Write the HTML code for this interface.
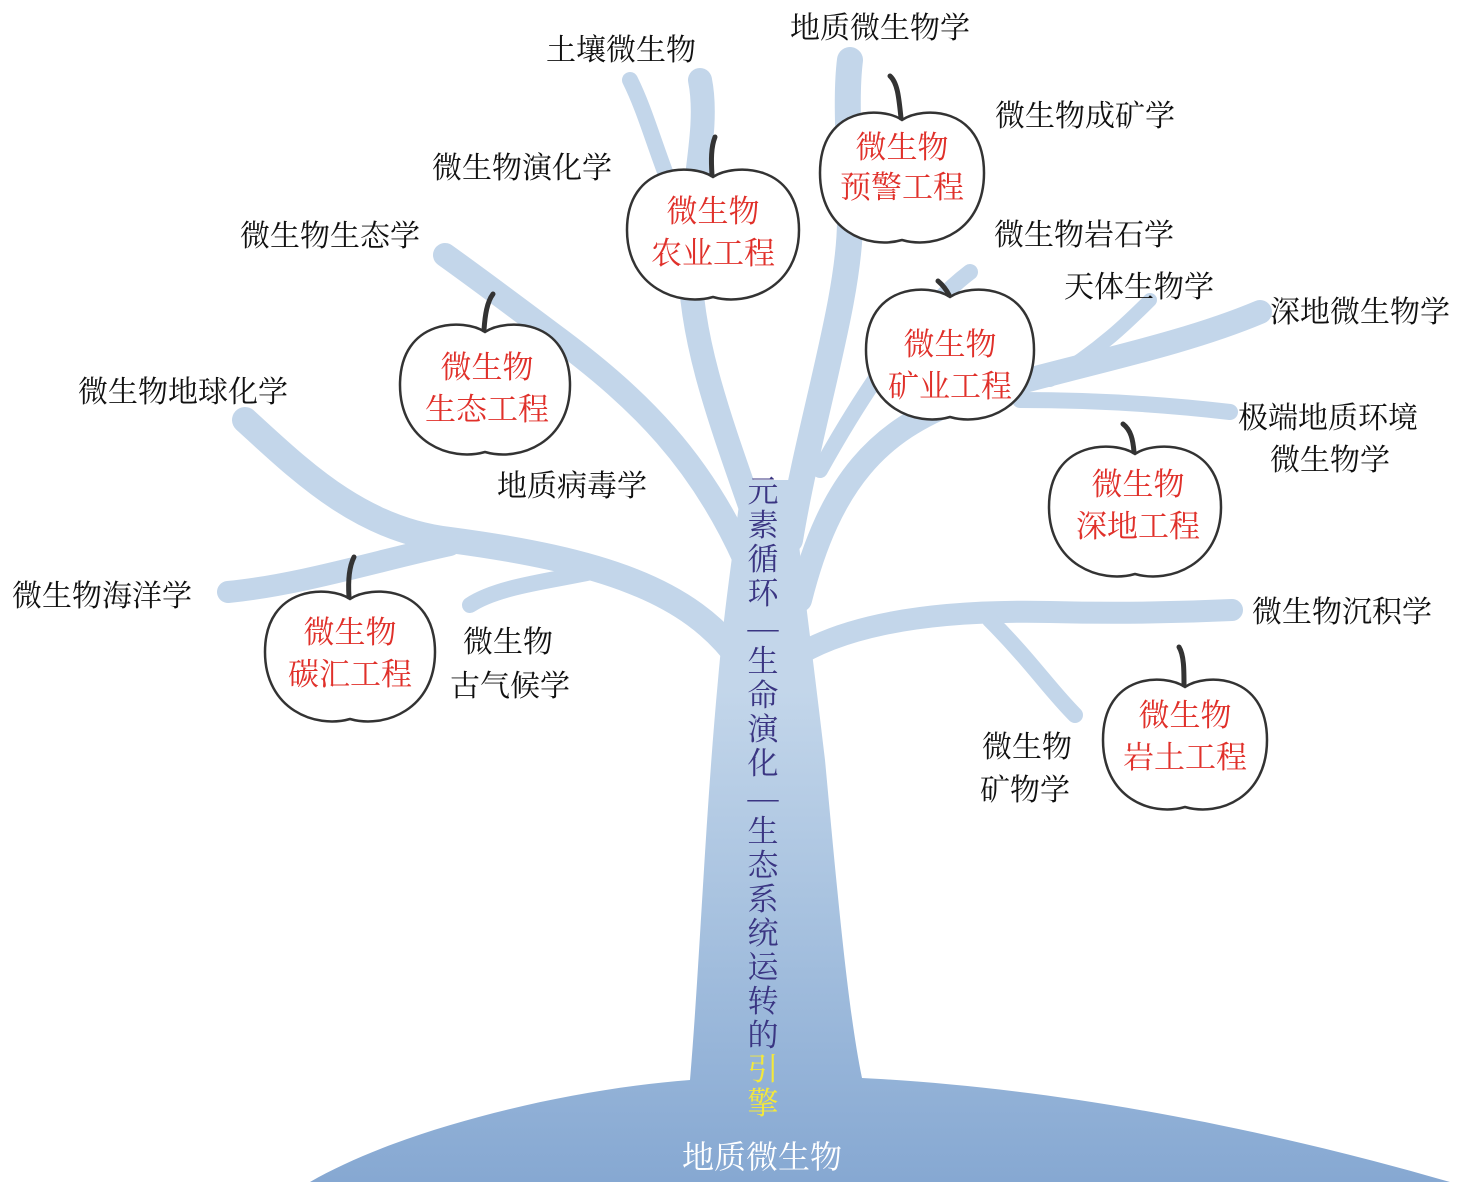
<!DOCTYPE html>
<html><head><meta charset="utf-8"><style>
html,body{margin:0;padding:0;background:#fff;}
svg{display:block;}
text{font-family:"Liberation Serif","Noto Serif CJK SC",serif;}
.k{font-size:30px;fill:#111;}
.r{font-size:31px;fill:#e0302a;text-anchor:middle;}
.br{fill:none;stroke:#c3d6ea;stroke-linecap:round;stroke-linejoin:round;}
.ap{fill:#fff;stroke:#333;stroke-width:2.5;}
.st{fill:none;stroke:#333;stroke-width:5;stroke-linecap:round;}
</style></head><body>
<svg width="1476" height="1197" viewBox="0 0 1476 1197">
<defs>
<linearGradient id="tg" x1="0" y1="0" x2="0" y2="1">
<stop offset="0" stop-color="#c3d6ea"/><stop offset="0.3" stop-color="#c3d6ea"/><stop offset="0.6" stop-color="#a9c3e0"/><stop offset="1" stop-color="#86a8d2"/>
</linearGradient>
</defs>
<g class="br">
<path d="M740,660 C690,590 600,560 450,540 C360,530 300,470 245,420" stroke-width="26"/>
<path d="M450,545 C380,560 300,585 228,592" stroke-width="22"/>
<path d="M600,570 C560,580 500,585 470,605" stroke-width="16"/>
<path d="M745,560 C700,460 640,400 560,340 C520,310 480,280 445,255" stroke-width="24"/>
<path d="M755,520 C720,420 690,340 690,260 C690,190 710,130 700,80" stroke-width="24"/>
<path d="M690,230 C660,170 650,120 630,80" stroke-width="16"/>
<path d="M790,540 C810,420 850,300 850,220 C850,150 845,100 850,60" stroke-width="26"/>
<path d="M800,600 C830,480 880,430 960,400 C1050,370 1170,350 1260,312" stroke-width="24"/>
<path d="M1050,380 C1100,350 1130,320 1150,300" stroke-width="14"/>
<path d="M1020,400 C1100,400 1170,405 1230,412" stroke-width="16"/>
<path d="M820,470 C870,380 920,310 970,272" stroke-width="16"/>
<path d="M790,660 C850,620 950,610 1050,612 C1130,614 1190,612 1232,610" stroke-width="22"/>
<path d="M990,620 C1030,660 1050,690 1075,715" stroke-width="16"/>
</g>
<path d="M742,480 L792,480 C800,560 812,650 825,760 C838,900 848,1010 862,1078 C1000,1085 1200,1110 1450,1182 L310,1182 C400,1130 560,1090 690,1080 C700,960 705,820 718,680 C725,600 735,540 742,480 Z" fill="url(#tg)"/>
<g transform="translate(902,178)"><path class="ap" d="M0,-58 C20,-72 82,-72 82,-5 C82,52 35,72 0,62 C-35,72 -82,52 -82,-5 C-82,-72 -20,-72 0,-58 Z"/><path class="st" d="M-12,-102 C-4,-95 -3,-78 -1,-60"/></g>
<g transform="translate(713,235)"><path class="ap" d="M0,-58 C20,-72 86,-72 86,-5 C86,52 35,72 0,62 C-35,72 -86,52 -86,-5 C-86,-72 -20,-72 0,-58 Z"/><path class="st" d="M2,-98 C-2,-88 -2,-75 -1,-60"/></g>
<g transform="translate(485,390)"><path class="ap" d="M0,-58 C20,-72 85,-72 85,-5 C85,52 35,72 0,62 C-35,72 -85,52 -85,-5 C-85,-72 -20,-72 0,-58 Z"/><path class="st" d="M8,-96 C2,-88 0,-75 -1,-60"/></g>
<g transform="translate(950,355)"><path class="ap" d="M0,-58 C20,-72 84,-72 84,-5 C84,52 35,72 0,62 C-35,72 -84,52 -84,-5 C-84,-72 -20,-72 0,-58 Z"/><path class="st" d="M-12,-74 C-5,-68 -2,-62 -1,-60"/></g>
<g transform="translate(1135,512)"><path class="ap" d="M0,-58 C20,-72 86,-72 86,-5 C86,52 35,72 0,62 C-35,72 -86,52 -86,-5 C-86,-72 -20,-72 0,-58 Z"/><path class="st" d="M-12,-88 C-4,-82 -2,-72 -1,-60"/></g>
<g transform="translate(350,657)"><path class="ap" d="M0,-58 C20,-72 85,-72 85,-5 C85,52 35,72 0,62 C-35,72 -85,52 -85,-5 C-85,-72 -20,-72 0,-58 Z"/><path class="st" d="M4,-100 C-1,-90 -2,-75 -1,-60"/></g>
<g transform="translate(1185,745)"><path class="ap" d="M0,-58 C20,-72 82,-72 82,-5 C82,52 35,72 0,62 C-35,72 -82,52 -82,-5 C-82,-72 -20,-72 0,-58 Z"/><path class="st" d="M-6,-98 C-1,-90 -1,-75 -1,-60"/></g>
<text class="r" x="902" y="158">微生物</text><text class="r" x="902" y="198">预警工程</text>
<text class="r" x="713" y="222">微生物</text><text class="r" x="713" y="264">农业工程</text>
<text class="r" x="487" y="378">微生物</text><text class="r" x="487" y="420">生态工程</text>
<text class="r" x="950" y="355">微生物</text><text class="r" x="950" y="397">矿业工程</text>
<text class="r" x="1138" y="495">微生物</text><text class="r" x="1138" y="537">深地工程</text>
<text class="r" x="350" y="643">微生物</text><text class="r" x="350" y="685">碳汇工程</text>
<text class="r" x="1185" y="726">微生物</text><text class="r" x="1185" y="768">岩土工程</text>
<text class="k" x="790" y="38">地质微生物学</text>
<text class="k" x="546" y="60">土壤微生物</text>
<text class="k" x="995" y="126">微生物成矿学</text>
<text class="k" x="432" y="178">微生物演化学</text>
<text class="k" x="994" y="245">微生物岩石学</text>
<text class="k" x="240" y="246">微生物生态学</text>
<text class="k" x="1064" y="297">天体生物学</text>
<text class="k" x="1270" y="322">深地微生物学</text>
<text class="k" x="78" y="402">微生物地球化学</text>
<text class="k" x="1238" y="428">极端地质环境</text>
<text class="k" x="1270" y="470">微生物学</text>
<text class="k" x="497" y="496">地质病毒学</text>
<text class="k" x="12" y="606">微生物海洋学</text>
<text class="k" x="1252" y="622">微生物沉积学</text>
<text class="k" x="463" y="652">微生物</text>
<text class="k" x="450" y="696">古气候学</text>
<text class="k" x="982" y="757">微生物</text>
<text class="k" x="980" y="800">矿物学</text>
<g font-size="31" text-anchor="middle" fill="#3a3582">
<text x="763" y="502">元</text><text x="763" y="536">素</text><text x="763" y="570">循</text><text x="763" y="604">环</text>
<text x="763" y="638">—</text><text x="763" y="672">生</text><text x="763" y="706">命</text><text x="763" y="740">演</text><text x="763" y="774">化</text>
<text x="763" y="808">—</text><text x="763" y="842">生</text><text x="763" y="876">态</text><text x="763" y="910">系</text><text x="763" y="944">统</text><text x="763" y="978">运</text><text x="763" y="1012">转</text><text x="763" y="1046">的</text>
<text x="763" y="1080" fill="#f4e83a">引</text><text x="763" y="1114" fill="#f4e83a">擎</text>
</g>
<text x="762" y="1168" font-size="32" fill="#fff" text-anchor="middle">地质微生物</text>
</svg>
</body></html>
